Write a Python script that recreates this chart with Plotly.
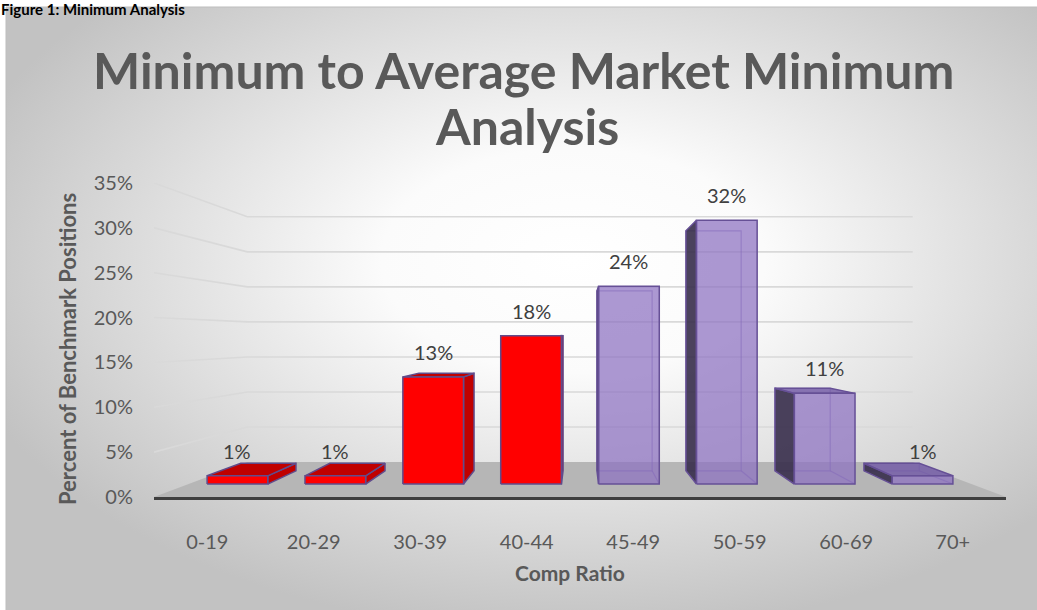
import base64
import plotly.graph_objects as go

# ---- data -------------------------------------------------------------
categories = ["0-19", "20-29", "30-39", "40-44", "45-49", "50-59", "60-69", "70+"]
shares = [1, 1, 13, 18, 24, 32, 11, 1]          # percent of benchmark positions
share_labels = ["1%", "1%", "13%", "18%", "24%", "32%", "11%", "1%"]
y_ticks = [0, 5, 10, 15, 20, 25, 30, 35]
y_tick_text = ["0%", "5%", "10%", "15%", "20%", "25%", "30%", "35%"]
red_count = 4                                    # first groups drawn in red

# ---- figure geometry --------------------------------------------------
W, H = 1037, 610
ML, MR, MT, MB = 154, 31, 183, 113
PW, PH = W - ML - MR, H - MT - MB

# simple one-point perspective: x' = X*r, y' = HORIZON + r*(Y - HORIZON)
HORIZON = 17.8
R_FRONT, R_BACK = 1.0, 0.781          # floor depth
RB_FRONT, RB_BACK = 0.919, 0.836      # bar depth
HALF = 0.31                           # half bar width (category units)
XMIN, XMAX = -4.0, 4.0


def proj(x, y, r):
    return x * r, HORIZON + r * (y - HORIZON)


def poly(points):
    xs, ys = [], []
    for p in points:
        px, py = proj(*p)
        xs.append(px)
        ys.append(py)
    xs.append(xs[0])
    ys.append(ys[0])
    return xs, ys


def paper_x(p):
    return (p - ML) / PW


def paper_y(p):
    return (H - MB - p) / PH


fig = go.Figure()


def add_face(points, fill, line_color, line_width=1.5):
    xs, ys = poly(points)
    fig.add_trace(go.Scatter(
        x=xs, y=ys, mode="lines", fill="toself", fillcolor=fill,
        line=dict(color=line_color, width=line_width),
        hoverinfo="skip", showlegend=False, cliponaxis=False))


def add_lines(segments, color, width):
    xs, ys = [], []
    for seg in segments:
        for p in seg:
            px, py = proj(*p)
            xs.append(px)
            ys.append(py)
        xs.append(None)
        ys.append(None)
    fig.add_trace(go.Scatter(
        x=xs, y=ys, mode="lines", line=dict(color=color, width=width),
        hoverinfo="skip", showlegend=False, cliponaxis=False))


# floor
add_face([(XMIN, 0, R_FRONT), (XMAX, 0, R_FRONT), (XMAX, 0, R_BACK), (XMIN, 0, R_BACK)],
         "#b6b6b6", "rgba(0,0,0,0)", 0)

# side-wall and back-wall gridlines
grid = [[(XMIN, v, R_FRONT), (XMIN, v, R_BACK), (XMAX, v, R_BACK)] for v in y_ticks if v > 0]
add_lines(grid, "#d9d9d9", 1.6)

# bars
RED_FRONT, RED_SHADE = "#ff0000", "#c00000"
RED_EDGE = "rgb(96,76,140)"
PUR_FRONT = "rgba(140,112,192,0.72)"
PUR_TOP = "rgba(118,94,168,0.85)"
PUR_SIDE = "rgba(55,45,75,0.9)"
PUR_EDGE = "rgb(102,80,150)"
PUR_HIDDEN = "rgba(112,88,168,0.55)"

for i, h in enumerate(shares):
    c = i - 3.5
    xl, xr = c - HALF, c + HALF
    f, b = RB_FRONT, RB_BACK
    side_x = xr if xr < 0 else (xl if xl > 0 else None)
    red = i < red_count
    shade = RED_SHADE if red else PUR_SIDE
    edge = RED_EDGE if red else PUR_EDGE
    if not red:
        # edges behind the transparent front face
        hidden_x = xl if side_x == xr else xr
        add_lines([
            [(xl, 0, b), (xr, 0, b), (xr, h, b), (xl, h, b), (xl, 0, b)],
            [(hidden_x, 0, f), (hidden_x, 0, b)],
        ], PUR_HIDDEN, 1.2)
    if side_x is not None:
        add_face([(side_x, 0, f), (side_x, 0, b), (side_x, h, b), (side_x, h, f)], shade, edge)
    if h < HORIZON:
        add_face([(xl, h, f), (xr, h, f), (xr, h, b), (xl, h, b)],
                 RED_SHADE if red else PUR_TOP, edge)
    add_face([(xl, 0, f), (xr, 0, f), (xr, h, f), (xl, h, f)],
             RED_FRONT if red else PUR_FRONT, edge)

# value labels above each bar
for i, (h, lab) in enumerate(zip(shares, share_labels)):
    lx, ly = proj(i - 3.5, h, RB_FRONT)
    fig.add_annotation(x=lx, y=ly, xref="x", yref="y", text=lab, showarrow=False,
                       yanchor="middle", yshift=25,
                       font=dict(family="Lato", size=20, color="#404040"))

# background panel with a soft radial shade
bg_svg = (
    f'<svg xmlns="http://www.w3.org/2000/svg" width="{W}" height="{H}" '
    f'viewBox="0 0 {W} {H}" preserveAspectRatio="none">'
    '<defs><radialGradient id="g" cx="0.55" cy="0.42" r="0.62">'
    '<stop offset="0" stop-color="#ffffff"/>'
    '<stop offset="0.3" stop-color="#fbfbfb"/>'
    '<stop offset="1" stop-color="#c2c2c2"/>'
    '</radialGradient></defs>'
    '<rect width="100%" height="100%" fill="url(#g)"/></svg>'
)
bg_uri = "data:image/svg+xml;base64," + base64.b64encode(bg_svg.encode()).decode()
PANEL_L, PANEL_T = 6, 7
fig.add_layout_image(
    source=bg_uri, xref="paper", yref="paper",
    x=paper_x(PANEL_L), y=paper_y(PANEL_T),
    sizex=(W - PANEL_L) / PW, sizey=(H - PANEL_T) / PH,
    xanchor="left", yanchor="top", sizing="stretch", layer="below")
fig.add_shape(type="rect", xref="paper", yref="paper",
              x0=paper_x(PANEL_L), y0=paper_y(H + 2), x1=paper_x(W + 2), y1=paper_y(PANEL_T),
              line=dict(color="#bdbdbd", width=1), fillcolor="rgba(0,0,0,0)", layer="below")

# titles
TITLE_FONT = dict(family="Lato", size=50, color="#595959")
fig.add_annotation(x=paper_x(523), y=paper_y(70), xref="paper", yref="paper",
                   text="<b>Minimum to Average Market Minimum</b>", showarrow=False,
                   xanchor="center", yanchor="middle", font=TITLE_FONT)
fig.add_annotation(x=paper_x(527), y=paper_y(126), xref="paper", yref="paper",
                   text="<b>Analysis</b>", showarrow=False,
                   xanchor="center", yanchor="middle", font=TITLE_FONT)
fig.add_annotation(x=paper_x(67), y=paper_y(349), xref="paper", yref="paper",
                   text="<b>Percent of Benchmark Positions</b>", showarrow=False, textangle=-90,
                   xanchor="center", yanchor="middle",
                   font=dict(family="Lato", size=22, color="#595959"))
fig.add_annotation(x=paper_x(570), y=paper_y(572), xref="paper", yref="paper",
                   text="<b>Comp Ratio</b>", showarrow=False,
                   xanchor="center", yanchor="middle",
                   font=dict(family="Lato", size=21, color="#595959"))
fig.add_annotation(x=paper_x(0), y=paper_y(-1), xref="paper", yref="paper",
                   text="<b>Figure 1: Minimum Analysis</b>", showarrow=False,
                   xanchor="left", yanchor="top", borderpad=0,
                   font=dict(family="Lato", size=15, color="#000000"))

fig.update_layout(
    width=W, height=H,
    margin=dict(l=ML, r=MR, t=MT, b=MB, pad=0),
    paper_bgcolor="#ffffff", plot_bgcolor="rgba(0,0,0,0)",
    showlegend=False,
    xaxis=dict(range=[XMIN, XMAX], tickvals=[i - 3.5 for i in range(len(categories))],
               ticktext=categories, showgrid=False, zeroline=False,
               showline=True, linecolor="#3f3f3f", linewidth=3, ticks="",
               ticklabelstandoff=25, fixedrange=True,
               tickfont=dict(family="Lato", size=20, color="#595959")),
    yaxis=dict(range=[0, 35], tickvals=y_ticks, ticktext=y_tick_text,
               showgrid=False, zeroline=False, showline=False, ticks="",
               ticklabelstandoff=20, fixedrange=True,
               tickfont=dict(family="Lato", size=20, color="#595959")),
)

fig.write_html("out.html")
